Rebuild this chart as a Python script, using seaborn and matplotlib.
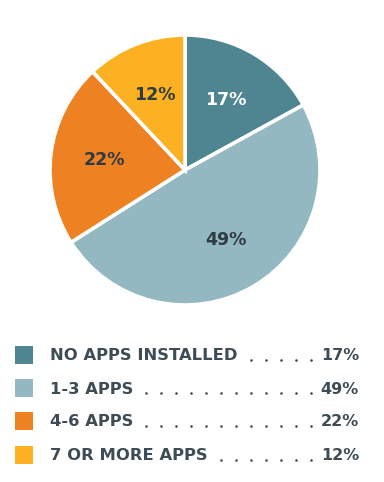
import matplotlib
matplotlib.use("Agg")
import matplotlib.pyplot as plt
from matplotlib.patches import Rectangle
import seaborn as sns

# --- data ---
categories = ["NO APPS INSTALLED", "1-3 APPS", "4-6 APPS", "7 OR MORE APPS"]
shares = [17, 49, 22, 12]
colors = ["#4e8590", "#93b8c1", "#ee8122", "#fbb121"]
label_colors = ["white", "#2f3b42", "#2f3b42", "#2f3b42"]

TEXT = "#3e4c55"
W, H = 384, 482

sns.set_theme(style="white")
plt.rcParams["font.family"] = ["DejaVu Sans"]

fig = plt.figure(figsize=(W / 100, H / 100), dpi=100)
fig.patch.set_facecolor("white")

# pie: centre (185, 170), radius 135 px
ax = fig.add_axes([50 / W, 1 - 305 / H, 270 / W, 270 / H])
wedges, texts, autotexts = ax.pie(
    shares,
    colors=colors,
    startangle=90,
    counterclock=False,
    autopct=lambda p: f"{p:.0f}%",
    pctdistance=0.6,
    wedgeprops=dict(edgecolor="white", linewidth=2.6),
)
for t, c in zip(autotexts, label_colors):
    t.set_color(c)
    t.set_fontsize(12.5)
    t.set_fontweight("bold")
ax.set_xlim(-1.0, 1.0)
ax.set_ylim(-1.0, 1.0)
ax.set_aspect("equal")

# legend with dot leaders, drawn in pixel coordinates
lg = fig.add_axes([0, 0, 1, 1], zorder=-1)
lg.set_xlim(0, W)
lg.set_ylim(H, 0)
lg.axis("off")

row_y = [355, 388, 421, 455]
renderer = fig.canvas.get_renderer()
for cat, val, col, y in zip(categories, shares, colors, row_y):
    lg.add_patch(Rectangle((15, y - 9), 18, 18, facecolor=col, edgecolor="none"))
    t = lg.text(50, y + 5.5, cat, fontsize=11.8, fontweight="bold", color=TEXT, va="baseline", ha="left")
    lg.text(359, y + 5.5, f"{val}%", fontsize=11.5, fontweight="bold", color=TEXT, va="baseline", ha="right")
    bb = t.get_window_extent(renderer)
    end_x = bb.x1 * W / fig.bbox.width
    xs = []
    x = 311
    while x > end_x + 8:
        xs.append(x)
        x -= 15
    lg.scatter(xs, [y + 4.5] * len(xs), s=3.5, color=TEXT, linewidths=0)

fig.savefig("out.png", dpi=100)
